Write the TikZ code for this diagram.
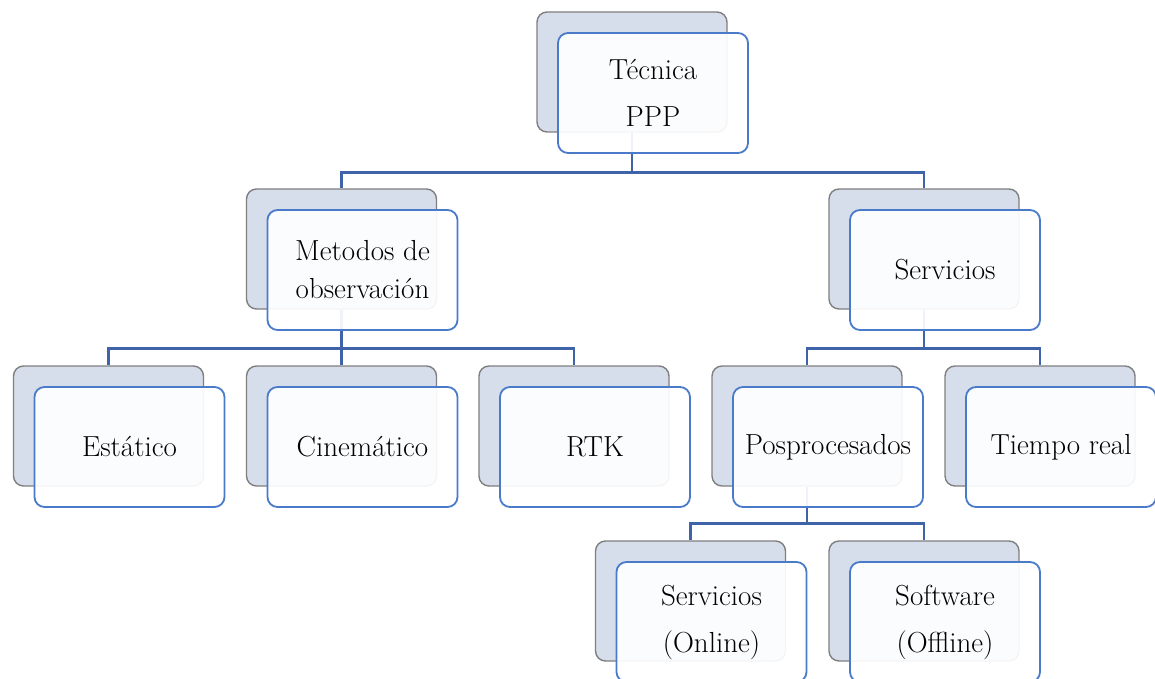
\documentclass[tikz,border=0pt]{standalone}
\usepackage{fontspec}
\usetikzlibrary{positioning}
\definecolor{backfill}{HTML}{D6DDEB}
\definecolor{backline}{HTML}{7F7F7F}
\definecolor{frontline}{HTML}{4A7BCB}
\definecolor{connline}{HTML}{3E63A9}
\tikzset{
  backbox/.style={draw=backline, line width=1.4pt, fill=backfill, rounded corners=10pt,
    minimum width=190pt, minimum height=120pt, inner sep=0pt},
  frontbox/.style={draw=frontline, line width=1.8pt, fill=white, fill opacity=0.92, text opacity=1,
    rounded corners=10pt, minimum width=190pt, minimum height=120pt, inner sep=0pt,
    align=center, font=\fontsize{29}{47}\selectfont},
  conn/.style={draw=connline, line width=2.8pt}
}
\begin{document}
\begin{tikzpicture}[x=1pt,y=-1pt]
\useasboundingbox (0,0) rectangle (1155,679);
% back boxes
\node[backbox] (b0) at (632,72) {};
\node[backbox] (b1) at (341.5,249) {};
\node[backbox] (b2) at (924,249) {};
\node[backbox] (b3) at (108.5,426) {};
\node[backbox] (b4) at (341.5,426) {};
\node[backbox] (b5) at (574,426) {};
\node[backbox] (b6) at (807,426) {};
\node[backbox] (b7) at (1040,426) {};
\node[backbox] (b8) at (690.5,601) {};
\node[backbox] (b9) at (924,601) {};
% connectors
\draw[conn] (b0.south) -- ++(0,40) coordinate (j0) -| (b1.north);
\draw[conn] (j0) -| (b2.north);
\draw[conn] (b1.south) -- ++(0,39) coordinate (j1) -| (b3.north);
\draw[conn] (j1) -- (b4.north);
\draw[conn] (j1) -| (b5.north);
\draw[conn] (b2.south) -- ++(0,39) coordinate (j2) -| (b6.north);
\draw[conn] (j2) -| (b7.north);
\draw[conn] (b6.south) -- ++(0,37) coordinate (j3) -| (b8.north);
\draw[conn] (j3) -| (b9.north);
% front boxes
\node[frontbox] (f0) at (653,93) {Técnica\\PPP};
\node[frontbox, font=\fontsize{29}{38}\selectfont] (f1) at (362.5,270) {Metodos de\\observación};
\node[frontbox] (f2) at (945,270) {Servicios};
\node[frontbox] (f3) at (129.5,447) {Estático};
\node[frontbox] (f4) at (362.5,447) {Cinemático};
\node[frontbox] (f5) at (595,447) {RTK};
\node[frontbox] (f6) at (828,447) {Posprocesados};
\node[frontbox] (f7) at (1061,447) {Tiempo real};
\node[frontbox] (f8) at (711.5,622) {Servicios\\(Online)};
\node[frontbox] (f9) at (945,622) {Software\\(Offline)};
\end{tikzpicture}
\end{document}
